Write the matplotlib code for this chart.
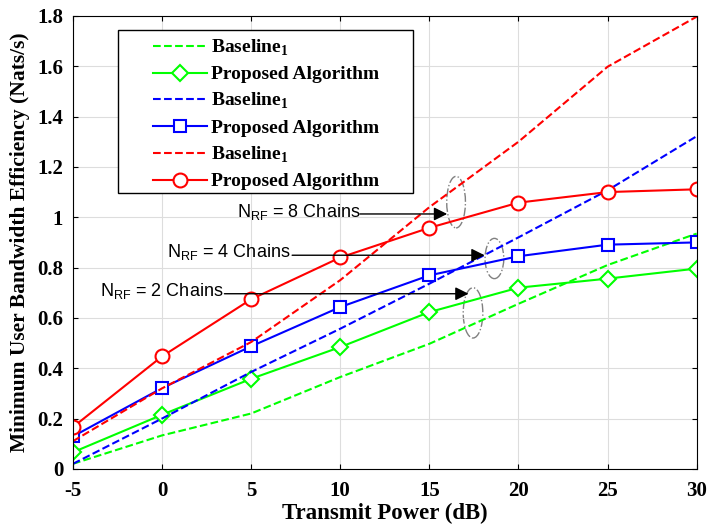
import matplotlib
matplotlib.use('Agg')
import numpy as np
import matplotlib.pyplot as plt
from matplotlib.patches import Ellipse, Rectangle
from matplotlib.legend_handler import HandlerLine2D

plt.rcParams['axes.unicode_minus'] = False
plt.rcParams['mathtext.fontset'] = 'custom'
plt.rcParams['mathtext.bf'] = 'Liberation Serif:bold'
plt.rcParams['mathtext.rm'] = 'Liberation Sans'

power_db = [-5, 0, 5, 10, 15, 20, 25, 30]

base_2 = [0.02, 0.133, 0.22, 0.365, 0.497, 0.656, 0.81, 0.935]
prop_2 = [0.066, 0.215, 0.358, 0.484, 0.623, 0.72, 0.756, 0.796]
base_4 = [0.02, 0.20, 0.385, 0.557, 0.736, 0.92, 1.107, 1.322]
prop_4 = [0.129, 0.321, 0.487, 0.643, 0.769, 0.845, 0.891, 0.90]
base_8 = [0.11, 0.32, 0.504, 0.75, 1.04, 1.30, 1.598, 1.797]
prop_8 = [0.166, 0.447, 0.674, 0.84, 0.958, 1.058, 1.10, 1.111]

chain_labels = ['N$_{\\mathrm{RF}}$ = 8 Chains', 'N$_{\\mathrm{RF}}$ = 4 Chains',
                'N$_{\\mathrm{RF}}$ = 2 Chains']
label_xy = [(4.2, 1.02), (0.3, 0.86), (-3.5, 0.705)]
arrow_start = [11.1, 7.3, 3.5]
arrow_tip = [(16.0, 1.013), (18.1, 0.849), (17.2, 0.696)]
ellipse_c = [(16.5, 1.06, 1.05, 0.205), (18.65, 0.836, 1.05, 0.16), (17.45, 0.62, 1.1, 0.2)]


class ShiftedLine(HandlerLine2D):
    # MATLAB-style legend: handle drawn in the right part of the handle box
    def get_xdata(self, legend, xdescent, ydescent, width, height, fontsize):
        xd = np.array([-xdescent + width * 0.37, -xdescent + width])
        return xd, np.array([xd.mean()])


serif = 'Liberation Serif'
fig = plt.figure(figsize=(7.08, 5.31), dpi=100)
ax = fig.add_axes([0.103, 0.117, 0.881, 0.853])

ms = 9
ax.plot(power_db, base_2, '--', color='#00ff00', lw=1.5, label='Baseline$_{\\mathbf{1}}$')
ax.plot(power_db, prop_2, '-D', color='#00ff00', lw=1.5, ms=ms - 1, mfc='white', mew=1.5,
        label='Proposed Algorithm')
ax.plot(power_db, base_4, '--', color='#0000ff', lw=1.5, label='Baseline$_{\\mathbf{1}}$')
ax.plot(power_db, prop_4, '-s', color='#0000ff', lw=1.5, ms=ms, mfc='white', mew=1.5,
        label='Proposed Algorithm')
ax.plot(power_db, base_8, '--', color='#ff0000', lw=1.5, label='Baseline$_{\\mathbf{1}}$')
ax.plot(power_db, prop_8, '-o', color='#ff0000', lw=1.5, ms=ms + 1, mfc='white', mew=1.5,
        label='Proposed Algorithm')

for lab, xy, x0, tip, ell in zip(chain_labels, label_xy, arrow_start, arrow_tip, ellipse_c):
    ax.annotate('', xy=tip, xytext=(x0, tip[1]),
                arrowprops=dict(arrowstyle='-|>', color='black', lw=1.0,
                                mutation_scale=20, shrinkA=0, shrinkB=0))
    ax.text(xy[0], xy[1], lab, fontsize=13, family='Liberation Sans', va='center', ha='left')
    ax.add_patch(Ellipse((ell[0], ell[1]), ell[2], ell[3], fill=False,
                         edgecolor='gray', ls='-.', lw=1.0))

ax.set_xlim(-5, 30)
ax.set_ylim(0, 1.8)
ax.set_xticks(power_db)
ax.set_yticks([0, 0.2, 0.4, 0.6, 0.8, 1, 1.2, 1.4, 1.6, 1.8])
ax.set_yticklabels(['0', '0.2', '0.4', '0.6', '0.8', '1', '1.2', '1.4', '1.6', '1.8'])
ax.grid(True, color='#dddddd', lw=0.8)
ax.tick_params(direction='in', top=True, right=True, labelsize=15)
ax.tick_params(axis='x', pad=9)
ax.tick_params(axis='y', pad=7)
for t in ax.get_xticklabels() + ax.get_yticklabels():
    t.set_fontfamily(serif)
    t.set_fontweight('bold')
ax.set_xlabel('Transmit Power (dB)', fontsize=16.5, fontweight='bold', family=serif, labelpad=1)
ax.set_ylabel('Minimum User Bandwidth Efficiency (Nats/s)', fontsize=15.5, fontweight='bold',
              family=serif, labelpad=5)

# legend frame drawn separately (wide MATLAB-style box)
ax.add_patch(Rectangle((0.072, 0.609), 0.474, 0.36, transform=ax.transAxes,
                       facecolor='white', edgecolor='black', lw=1.0, zorder=4.5))
leg = ax.legend(loc='upper left', bbox_to_anchor=(0.056, 0.982), frameon=False,
                handlelength=4.4, handletextpad=0.2, borderpad=0.2, labelspacing=0.4,
                prop={'family': serif, 'weight': 'bold', 'size': 14},
                handler_map={matplotlib.lines.Line2D: ShiftedLine()})

fig.savefig('out.png', dpi=100)
